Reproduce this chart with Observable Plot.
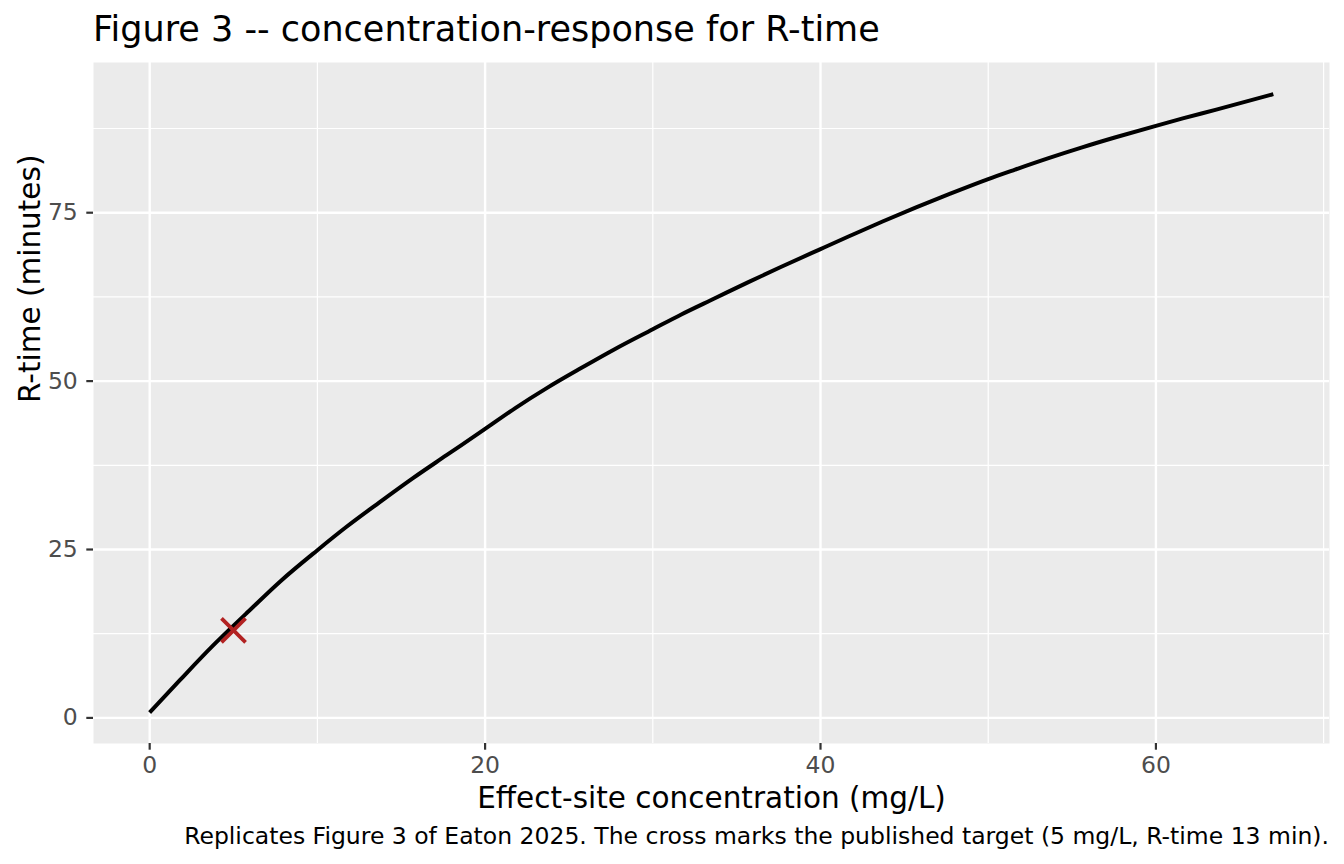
<!DOCTYPE html>
<html>
<head>
<meta charset="utf-8">
<script src="https://cdn.jsdelivr.net/npm/d3@7"></script>
<script src="https://cdn.jsdelivr.net/npm/@observablehq/plot@0.6"></script>
<style>
  html, body { margin: 0; padding: 0; background: #fff; }
  body { width: 1344px; height: 864px; position: relative; overflow: hidden; font-family: "DejaVu Sans", sans-serif; }
  #title { position: absolute; left: 93px; top: 12px; font-size: 35px; line-height: 1; color: #000; white-space: nowrap; }
  #chart { position: absolute; left: 0; top: 52px; }
  #caption { position: absolute; right: 15px; top: 825px; font-size: 23.5px; line-height: 1; color: #000; white-space: nowrap; }
</style>
</head>
<body>
<div id="title">Figure 3 -- concentration-response for R-time</div>
<div id="chart"></div>
<div id="caption">Replicates Figure 3 of Eaton 2025. The cross marks the published target (5 mg/L, R-time 13 min).</div>
<script>
// Data
const conc  = [0, 1.8, 3.8, 5, 5.8, 7.8, 10, 11.7, 13.7, 15.7, 17.7, 20, 21.8, 23.7, 25.7, 27.7, 30,
               31.7, 33.7, 35.7, 37.6, 40, 41.7, 43.7, 45.7, 47.7, 50, 51.6, 53.6, 55.6, 57.6, 60, 61.6, 63.6, 67];
const rtime = [0.8, 5.6, 10.8, 13.7, 15.6, 20.3, 24.9, 28.3, 32.0, 35.6, 39.0, 42.9, 46.0, 49.0, 51.9, 54.7, 57.7,
               59.9, 62.3, 64.7, 66.9, 69.6, 71.5, 73.7, 75.8, 77.8, 80.0, 81.4, 83.1, 84.7, 86.2, 87.9, 89.0, 90.3, 92.6];
const targetConc = [5];
const targetRtime = [13];

const xTicks = [0, 20, 40, 60];
const xMinor = [10, 30, 50, 70];
const yTicks = [0, 25, 50, 75];
const yMinor = [12.5, 37.5, 62.5, 87.5];

const xLabel = "Effect-site concentration (mg/L)";
const yLabel = "R-time (minutes)";

const curve = conc.map((c, i) => ({c, r: rtime[i]}));
const target = targetConc.map((c, i) => ({c, r: targetRtime[i]}));

const plot = Plot.plot({
  width: 1344,
  height: 770,
  marginLeft: 93,
  marginRight: 15,
  marginTop: 10,
  marginBottom: 79,
  style: {fontFamily: "DejaVu Sans", fontSize: "23.5px", background: "white", overflow: "visible"},
  x: {domain: [-3.35, 70.35]},
  y: {domain: [-3.8, 97.3]},
  marks: [
    Plot.frame({fill: "#EBEBEB", stroke: "none"}),
    Plot.ruleX(xMinor, {stroke: "white", strokeWidth: 1.2}),
    Plot.ruleY(yMinor, {stroke: "white", strokeWidth: 1.2}),
    Plot.ruleX(xTicks, {stroke: "white", strokeWidth: 2.4}),
    Plot.ruleY(yTicks, {stroke: "white", strokeWidth: 2.4}),
    Plot.axisX({ticks: xTicks, tickSize: 6.7, tickPadding: 6, strokeWidth: 2.2, stroke: "#333333", fill: "#4D4D4D", fontSize: 23.5, label: null}),
    Plot.axisY({ticks: yTicks, tickSize: 6.7, tickPadding: 9, strokeWidth: 2.2, stroke: "#333333", fill: "#4D4D4D", fontSize: 23.5, label: null}),
    Plot.line(curve, {x: "c", y: "r", stroke: "black", strokeWidth: 4, strokeLinecap: "butt", strokeLinejoin: "round", curve: "monotone-x"}),
    Plot.dot(target, {x: "c", y: "r", symbol: "times", r: 11, stroke: "#B22222", strokeWidth: 3.8}),
    Plot.text([xLabel], {frameAnchor: "bottom", lineAnchor: "bottom", dy: 64, fontSize: 29.5, fill: "black"}),
    Plot.text([yLabel], {frameAnchor: "left", rotate: -90, dx: -63, fontSize: 29.5, fill: "black"})
  ]
});
document.getElementById("chart").appendChild(plot);
</script>
</body>
</html>
